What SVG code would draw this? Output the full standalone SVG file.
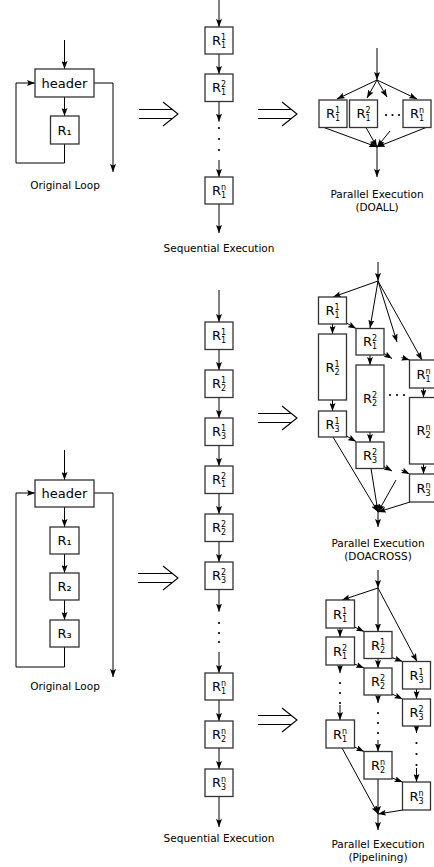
<svg xmlns="http://www.w3.org/2000/svg" width="434" height="867" viewBox="0 0 434 867">
<defs>
<marker id="ah" viewBox="0 0 8 6" refX="8" refY="3" markerWidth="8" markerHeight="6" orient="auto" markerUnits="userSpaceOnUse"><path d="M0,0 L8,3 L0,6 L1.5,3 z" fill="#000"/></marker>
<style>
.ln{stroke:#000;stroke-width:1;fill:none}
.a{marker-end:url(#ah)}
.box{fill:#fff;stroke:#333;stroke-width:1.3}
.r{font-family:"DejaVu Sans",sans-serif;font-size:13px;fill:#000}
.s{font-size:8px}
.hd{font-family:"DejaVu Sans",sans-serif;font-size:13px;text-anchor:middle;fill:#000}
.cap{font-family:"DejaVu Sans",sans-serif;font-size:10.5px;text-anchor:middle;fill:#000}
.dot{fill:#000}
.dbl{stroke:#000;stroke-width:1.1;fill:none}
</style>
</defs>
<rect width="434" height="867" fill="#fff"/>

<!-- connectors -->
<g id="connectors">
<!-- top original loop -->
<path class="ln a" d="M64.5,40 V69"/>
<path class="ln a" d="M64.5,97 V116"/>
<path class="ln a" d="M64.5,144 V163 H16 V83 H35"/>
<path class="ln a" d="M94,83 H113 V172"/>
<!-- top sequential -->
<path class="ln a" d="M219,0 V27"/>
<path class="ln a" d="M219,54 V74"/>
<path class="ln a" d="M219,101.5 V121.7"/>
<path class="ln a" d="M219,160 V177"/>
<path class="ln a" d="M219,204 V233"/>
<!-- DOALL -->
<path class="ln a" d="M377,48 V80"/>
<path class="ln a" d="M377,80 L337,99"/>
<path class="ln a" d="M377,80 L367,98"/>
<path class="ln a" d="M377,80 L387,97"/>
<path class="ln a" d="M377,80 L417,99"/>
<path class="ln a" d="M324,127.5 L377,147"/>
<path class="ln a" d="M366,127.5 L377,147"/>
<path class="ln a" d="M390,131 L377,147"/>
<path class="ln a" d="M426,127.5 L377,147"/>
<path class="ln a" d="M377,147 V177"/>
<!-- bottom original loop -->
<path class="ln a" d="M64.5,450 V480"/>
<path class="ln a" d="M64.5,507 V527"/>
<path class="ln a" d="M64.5,554 V573"/>
<path class="ln a" d="M64.5,600 V620"/>
<path class="ln a" d="M64.5,647 V667 H16 V493 H35"/>
<path class="ln a" d="M94,493 H113 V677"/>
<!-- middle sequential -->
<path class="ln a" d="M219,290 V322"/>
<path class="ln a" d="M219,349.5 V370"/>
<path class="ln a" d="M219,397.5 V418"/>
<path class="ln a" d="M219,445.5 V466"/>
<path class="ln a" d="M219,493.5 V514"/>
<path class="ln a" d="M219,541.5 V562"/>
<path class="ln a" d="M219,589.5 V611.7"/>
<path class="ln a" d="M219,652 V673"/>
<path class="ln a" d="M219,700 V721"/>
<path class="ln a" d="M219,748 V769"/>
<path class="ln a" d="M219,796.5 V827"/>
<!-- DOACROSS -->
<path class="ln a" d="M378,262 V281"/>
<path class="ln a" d="M378,281 L333,297"/>
<path class="ln a" d="M378,281 L370,328"/>
<path class="ln a" d="M378,281 L397,342"/>
<path class="ln a" d="M378,281 L422,360"/>
<path class="ln a" d="M332.5,324 V334"/>
<path class="ln a" d="M332.5,400 V411"/>
<path class="ln a" d="M370,355 V365"/>
<path class="ln a" d="M370,432 V442"/>
<path class="ln a" d="M423.5,388 V397.5"/>
<path class="ln a" d="M423.5,464 V474"/>
<path class="ln a" d="M346.5,323 L356,328.5"/>
<path class="ln a" d="M384,353.5 L392,358.5"/>
<path class="ln a" d="M401.5,357.5 L409.5,360"/>
<path class="ln a" d="M346.5,436 L356,441.5"/>
<path class="ln a" d="M384,466.5 L392,471"/>
<path class="ln a" d="M401.5,470 L409.5,474"/>
<path class="ln a" d="M333,437 L378,512"/>
<path class="ln a" d="M371,468.5 L378,512"/>
<path class="ln a" d="M396,480 L378,512"/>
<path class="ln a" d="M410,502 L378,512"/>
<path class="ln a" d="M378,512 V527"/>
<!-- Pipelining -->
<path class="ln a" d="M378,570 V588"/>
<path class="ln a" d="M378,588 L342,600"/>
<path class="ln a" d="M378,588 V631.5"/>
<path class="ln a" d="M378,588 L417,661.5"/>
<path class="ln a" d="M340,628 V637"/>
<path class="ln a" d="M340,665 V673"/>
<path class="ln a" d="M340,705 V720"/>
<path class="ln a" d="M378,658.5 V668"/>
<path class="ln a" d="M378,695 V703"/>
<path class="ln a" d="M378,740 V751.5"/>
<path class="ln a" d="M416.5,689 V699"/>
<path class="ln a" d="M416.5,726 V733"/>
<path class="ln a" d="M416.5,768 V782"/>
<path class="ln a" d="M354.5,627 L364,631.5"/>
<path class="ln a" d="M392,657.5 L402.5,661.5"/>
<path class="ln a" d="M354.5,664 L364,668"/>
<path class="ln a" d="M392,694 L402.5,699"/>
<path class="ln a" d="M354.5,747 L364,751.5"/>
<path class="ln a" d="M392,778 L402.5,782"/>
<path class="ln a" d="M342,748 L378,814"/>
<path class="ln a" d="M378,779 V814"/>
<path class="ln a" d="M403,810 L378,814"/>
<path class="ln a" d="M378,814 V830"/>
</g>

<!-- transformation arrows -->
<g id="implies">
<path class="dbl" d="M139,109.5 H172 M139,118.5 H172 M163,102 L178,114 L163,126"/>
<path class="dbl" d="M258,109.5 H291 M258,118.5 H291 M282,102 L297,114 L282,126"/>
<path class="dbl" d="M258,413.5 H291 M258,422.5 H291 M282,406 L297,418 L282,430"/>
<path class="dbl" d="M138,573.5 H172 M138,582.5 H172 M163,566 L178,578 L163,590"/>
<path class="dbl" d="M258,715.5 H291 M258,724.5 H291 M282,708 L297,720 L282,732"/>
</g>

<!-- dots -->
<g id="ellipses" class="dot">
<circle cx="219" cy="128" r="1.1"/><circle cx="219" cy="139" r="1.1"/><circle cx="219" cy="150" r="1.1"/>
<circle cx="386" cy="115" r="1.1"/><circle cx="392.5" cy="115" r="1.1"/><circle cx="399" cy="115" r="1.1"/>
<circle cx="219" cy="623" r="1.1"/><circle cx="219" cy="633" r="1.1"/><circle cx="219" cy="642" r="1.1"/>
<circle cx="390" cy="395" r="1.1"/><circle cx="397" cy="395" r="1.1"/><circle cx="404" cy="395" r="1.1"/>
<circle cx="340" cy="683" r="1.1"/><circle cx="340" cy="693" r="1.1"/><circle cx="340" cy="703" r="1.1"/>
<circle cx="378" cy="713" r="1.1"/><circle cx="378" cy="723" r="1.1"/><circle cx="378" cy="733" r="1.1"/>
<circle cx="416.5" cy="743" r="1.1"/><circle cx="416.5" cy="754" r="1.1"/><circle cx="416.5" cy="765" r="1.1"/>
</g>

<!-- top original loop nodes -->
<g id="t-header"><rect class="box" x="35" y="69" width="59" height="28"/><text class="hd" x="64.5" y="87.5">header</text></g>
<g id="t-R1"><rect class="box" x="50.5" y="116" width="28.5" height="28"/><text class="r" x="57.5" y="134.5">R₁</text></g>
<text class="cap" x="65" y="189">Original Loop</text>

<!-- top sequential -->
<g id="ts-1"><rect class="box" x="205" y="27" width="28" height="27"/><text class="r" x="212" y="45">R<tspan class="s" dy="-5">1</tspan><tspan class="s" dx="-5.1" dy="8">1</tspan></text></g>
<g id="ts-2"><rect class="box" x="205" y="74" width="28" height="27.5"/><text class="r" x="212" y="92.3">R<tspan class="s" dy="-5">2</tspan><tspan class="s" dx="-5.1" dy="8">1</tspan></text></g>
<g id="ts-n"><rect class="box" x="205" y="177" width="28" height="27"/><text class="r" x="212" y="195">R<tspan class="s" dy="-5">n</tspan><tspan class="s" dx="-5.1" dy="8">1</tspan></text></g>
<text class="cap" x="219" y="252">Sequential Execution</text>

<!-- DOALL -->
<g id="da-1"><rect class="box" x="319" y="100" width="28" height="27.5"/><text class="r" x="326" y="118.3">R<tspan class="s" dy="-5">1</tspan><tspan class="s" dx="-5.1" dy="8">1</tspan></text></g>
<g id="da-2"><rect class="box" x="349.5" y="100" width="28" height="27.5"/><text class="r" x="356.5" y="118.3">R<tspan class="s" dy="-5">2</tspan><tspan class="s" dx="-5.1" dy="8">1</tspan></text></g>
<g id="da-n"><rect class="box" x="403" y="100" width="28" height="27.5"/><text class="r" x="410" y="118.3">R<tspan class="s" dy="-5">n</tspan><tspan class="s" dx="-5.1" dy="8">1</tspan></text></g>
<text class="cap" x="377" y="198">Parallel Execution</text>
<text class="cap" x="377" y="210.5">(DOALL)</text>

<!-- bottom original loop -->
<g id="b-header"><rect class="box" x="35" y="480" width="59" height="27"/><text class="hd" x="64.5" y="498">header</text></g>
<g id="b-R1"><rect class="box" x="50" y="527" width="29" height="27"/><text class="r" x="57.5" y="545">R₁</text></g>
<g id="b-R2"><rect class="box" x="50" y="573" width="29" height="27"/><text class="r" x="57.5" y="591">R₂</text></g>
<g id="b-R3"><rect class="box" x="50" y="620" width="29" height="27"/><text class="r" x="57.5" y="638">R₃</text></g>
<text class="cap" x="65" y="690">Original Loop</text>

<!-- middle sequential -->
<g id="ms-11"><rect class="box" x="205" y="322" width="28" height="27.5"/><text class="r" x="212" y="340.3">R<tspan class="s" dy="-5">1</tspan><tspan class="s" dx="-5.1" dy="8">1</tspan></text></g>
<g id="ms-12"><rect class="box" x="205" y="370" width="28" height="27.5"/><text class="r" x="212" y="388.3">R<tspan class="s" dy="-5">1</tspan><tspan class="s" dx="-5.1" dy="8">2</tspan></text></g>
<g id="ms-13"><rect class="box" x="205" y="418" width="28" height="27.5"/><text class="r" x="212" y="436.3">R<tspan class="s" dy="-5">1</tspan><tspan class="s" dx="-5.1" dy="8">3</tspan></text></g>
<g id="ms-21"><rect class="box" x="205" y="466" width="28" height="27.5"/><text class="r" x="212" y="484.3">R<tspan class="s" dy="-5">2</tspan><tspan class="s" dx="-5.1" dy="8">1</tspan></text></g>
<g id="ms-22"><rect class="box" x="205" y="514" width="28" height="27.5"/><text class="r" x="212" y="532.3">R<tspan class="s" dy="-5">2</tspan><tspan class="s" dx="-5.1" dy="8">2</tspan></text></g>
<g id="ms-23"><rect class="box" x="205" y="562" width="28" height="27.5"/><text class="r" x="212" y="580.3">R<tspan class="s" dy="-5">2</tspan><tspan class="s" dx="-5.1" dy="8">3</tspan></text></g>
<g id="ms-n1"><rect class="box" x="205" y="673" width="28" height="27"/><text class="r" x="212" y="691">R<tspan class="s" dy="-5">n</tspan><tspan class="s" dx="-5.1" dy="8">1</tspan></text></g>
<g id="ms-n2"><rect class="box" x="205" y="721" width="28" height="27"/><text class="r" x="212" y="739">R<tspan class="s" dy="-5">n</tspan><tspan class="s" dx="-5.1" dy="8">2</tspan></text></g>
<g id="ms-n3"><rect class="box" x="205" y="769" width="28" height="27.5"/><text class="r" x="212" y="787.3">R<tspan class="s" dy="-5">n</tspan><tspan class="s" dx="-5.1" dy="8">3</tspan></text></g>
<text class="cap" x="219" y="842">Sequential Execution</text>

<!-- DOACROSS -->
<g id="dx-11"><rect class="box" x="318.5" y="297" width="28" height="27"/><text class="r" x="325.5" y="315">R<tspan class="s" dy="-5">1</tspan><tspan class="s" dx="-5.1" dy="8">1</tspan></text></g>
<g id="dx-12"><rect class="box" x="318.5" y="334" width="28" height="66"/><text class="r" x="325.5" y="371.5">R<tspan class="s" dy="-5">1</tspan><tspan class="s" dx="-5.1" dy="8">2</tspan></text></g>
<g id="dx-13"><rect class="box" x="318.5" y="411" width="28" height="26"/><text class="r" x="325.5" y="428.5">R<tspan class="s" dy="-5">1</tspan><tspan class="s" dx="-5.1" dy="8">3</tspan></text></g>
<g id="dx-21"><rect class="box" x="356" y="328.5" width="28" height="26.5"/><text class="r" x="363" y="346.3">R<tspan class="s" dy="-5">2</tspan><tspan class="s" dx="-5.1" dy="8">1</tspan></text></g>
<g id="dx-22"><rect class="box" x="356" y="365" width="28" height="67"/><text class="r" x="363" y="403">R<tspan class="s" dy="-5">2</tspan><tspan class="s" dx="-5.1" dy="8">2</tspan></text></g>
<g id="dx-23"><rect class="box" x="356" y="442" width="28" height="26.5"/><text class="r" x="363" y="459.8">R<tspan class="s" dy="-5">2</tspan><tspan class="s" dx="-5.1" dy="8">3</tspan></text></g>
<g id="dx-n1"><rect class="box" x="409.5" y="360" width="28" height="28"/><text class="r" x="416.5" y="378.5">R<tspan class="s" dy="-5">n</tspan><tspan class="s" dx="-5.1" dy="8">1</tspan></text></g>
<g id="dx-n2"><rect class="box" x="409.5" y="397.5" width="28" height="66.5"/><text class="r" x="416.5" y="435.3">R<tspan class="s" dy="-5">n</tspan><tspan class="s" dx="-5.1" dy="8">2</tspan></text></g>
<g id="dx-n3"><rect class="box" x="409.5" y="474" width="28" height="28"/><text class="r" x="416.5" y="492.5">R<tspan class="s" dy="-5">n</tspan><tspan class="s" dx="-5.1" dy="8">3</tspan></text></g>
<text class="cap" x="378" y="547">Parallel Execution</text>
<text class="cap" x="378" y="560">(DOACROSS)</text>

<!-- Pipelining -->
<g id="pp-11"><rect class="box" x="326" y="600" width="28.5" height="28"/><text class="r" x="333" y="618.5">R<tspan class="s" dy="-5">1</tspan><tspan class="s" dx="-5.1" dy="8">1</tspan></text></g>
<g id="pp-21"><rect class="box" x="326" y="637" width="28.5" height="28"/><text class="r" x="333" y="655.5">R<tspan class="s" dy="-5">2</tspan><tspan class="s" dx="-5.1" dy="8">1</tspan></text></g>
<g id="pp-n1"><rect class="box" x="326" y="720" width="28.5" height="28"/><text class="r" x="333" y="738.5">R<tspan class="s" dy="-5">n</tspan><tspan class="s" dx="-5.1" dy="8">1</tspan></text></g>
<g id="pp-12"><rect class="box" x="364" y="631.5" width="28" height="27"/><text class="r" x="371" y="649.5">R<tspan class="s" dy="-5">1</tspan><tspan class="s" dx="-5.1" dy="8">2</tspan></text></g>
<g id="pp-22"><rect class="box" x="364" y="668" width="28" height="27"/><text class="r" x="371" y="686">R<tspan class="s" dy="-5">2</tspan><tspan class="s" dx="-5.1" dy="8">2</tspan></text></g>
<g id="pp-n2"><rect class="box" x="364" y="751.5" width="28" height="27.5"/><text class="r" x="371" y="769.8">R<tspan class="s" dy="-5">n</tspan><tspan class="s" dx="-5.1" dy="8">2</tspan></text></g>
<g id="pp-13"><rect class="box" x="402.5" y="661.5" width="28" height="27.5"/><text class="r" x="409.5" y="679.8">R<tspan class="s" dy="-5">1</tspan><tspan class="s" dx="-5.1" dy="8">3</tspan></text></g>
<g id="pp-23"><rect class="box" x="402.5" y="699" width="28" height="27"/><text class="r" x="409.5" y="717">R<tspan class="s" dy="-5">2</tspan><tspan class="s" dx="-5.1" dy="8">3</tspan></text></g>
<g id="pp-n3"><rect class="box" x="402.5" y="782" width="28" height="28"/><text class="r" x="409.5" y="800.5">R<tspan class="s" dy="-5">n</tspan><tspan class="s" dx="-5.1" dy="8">3</tspan></text></g>
<text class="cap" x="378" y="848">Parallel Execution</text>
<text class="cap" x="378" y="860.5">(Pipelining)</text>
</svg>
